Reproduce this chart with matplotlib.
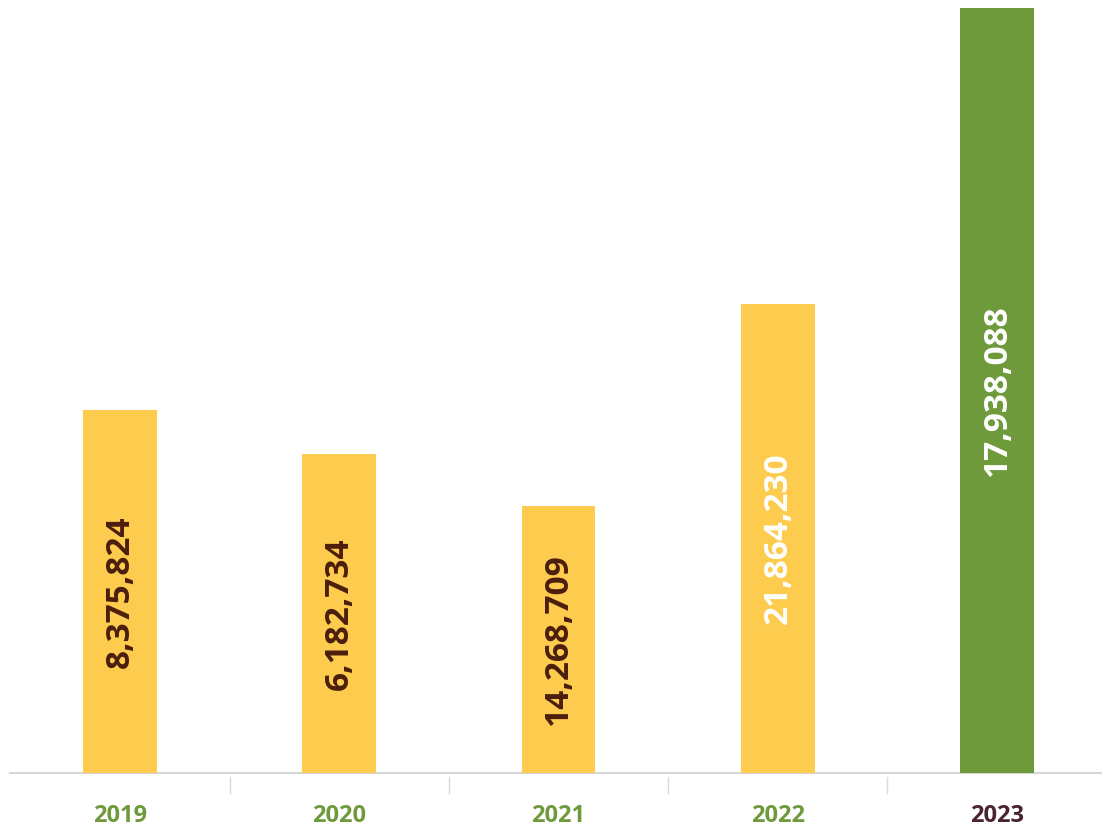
import numpy as np
import matplotlib.pyplot as plt

# data (bar heights are drawn independently of the printed labels)
years = ['2019', '2020', '2021', '2022', '2023']
bar_heights = [363, 319, 267, 469, 765]
bar_labels = ['8,375,824', '6,182,734', '14,268,709', '21,864,230', '17,938,088']

bar_colors = ['#FDCB4E', '#FDCB4E', '#FDCB4E', '#FDCB4E', '#6E9A3C']
label_colors = ['#4A1E0C', '#4A1E0C', '#4A1E0C', '#FFFFFF', '#FFFFFF']
year_colors = ['#6E9A3C', '#6E9A3C', '#6E9A3C', '#6E9A3C', '#4A2230']

fig = plt.figure(figsize=(11.02, 8.33), dpi=100, facecolor='white')
ax = fig.add_axes([0, 1 - 773 / 833, 1, 773 / 833])

x = np.arange(len(years))
ax.bar(x, bar_heights, width=0.337, color=bar_colors, zorder=2)

for i, (h, lab) in enumerate(zip(bar_heights, bar_labels)):
    ax.text(i, h / 2, lab, rotation=90, ha='center', va='center',
            fontsize=24, fontweight='bold', color=label_colors[i],
            family='Open Sans', zorder=3)

ax.set_xlim(-0.547, 4.479)
ax.set_ylim(0, 773)
for s in ax.spines.values():
    s.set_visible(False)
ax.set_yticks([])
ax.set_xticks([])

# baseline
ax.axhline(0, xmin=0.009, xmax=1.0, color='#D6D6D6', lw=1.5, zorder=1, clip_on=False)

# separator ticks between categories
for b in x[:-1] + 0.5:
    ax.plot([b, b], [-4, -20], color='#DADADA', lw=1, clip_on=False)

for i, yr in enumerate(years):
    ax.text(i, -43, yr, ha='center', va='center', fontsize=17,
            fontweight='bold', color=year_colors[i], family='Open Sans',
            clip_on=False)

fig.savefig('out.png', dpi=100, facecolor='white')
